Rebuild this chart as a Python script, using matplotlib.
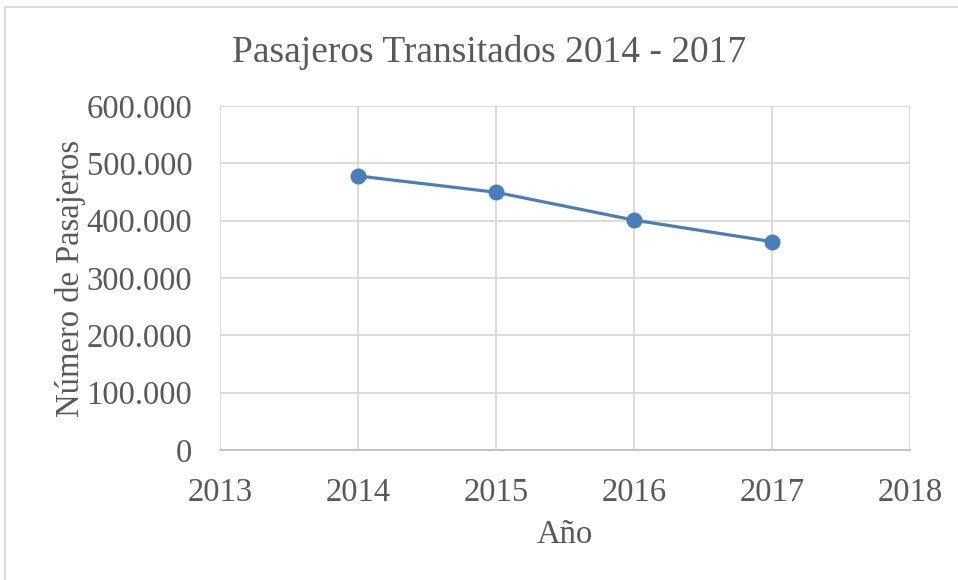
import matplotlib
matplotlib.use('Agg')
import matplotlib.pyplot as plt
import matplotlib.ticker as ticker
from matplotlib.patches import Rectangle

years = [2014, 2015, 2016, 2017]
pasajeros = [478000, 449500, 401000, 363500]

plt.rcParams['font.family'] = ['Liberation Serif', 'DejaVu Serif']
textColor = '#595959'

fig = plt.figure(figsize=(9.58, 5.8), dpi=100)
ax = fig.add_axes([220/958, 1 - 450/580, 690/958, 344/580])

ax.plot(years, pasajeros, color='#4a7ebb', linewidth=2.3, marker='o', markersize=10.5)

ax.set_xlim(2013, 2018)
ax.set_ylim(0, 600000)
ax.xaxis.set_major_locator(ticker.MultipleLocator(1))
ax.yaxis.set_major_locator(ticker.MultipleLocator(100000))
ax.yaxis.set_major_formatter(ticker.FuncFormatter(lambda v, p: f'{int(v):,}'.replace(',', '.')))

ax.grid(True, color='#d9d9d9', linewidth=1.3)
ax.set_axisbelow(True)
for side in ['top', 'right', 'left']:
    ax.spines[side].set_visible(False)
ax.spines['bottom'].set_color('#bfbfbf')
ax.spines['bottom'].set_linewidth(1.3)
ax.tick_params(length=0, labelsize=23.5, labelcolor=textColor)
ax.tick_params(axis='x', pad=20)
ax.tick_params(axis='y', pad=20)

# title centred on the whole chart area, like the Excel original
fig.text(489/958, 1 - 52/580, 'Pasajeros Transitados 2014 - 2017', fontsize=27,
         color=textColor, ha='center', va='center')
ax.set_xlabel('Año', fontsize=23.5, color=textColor, labelpad=8)
ax.set_ylabel('Número de Pasajeros', fontsize=23.5, color=textColor, labelpad=0)

fig.patches.append(Rectangle((5/958, -0.1), 1, 1.1 - 7/580, transform=fig.transFigure,
                             fill=False, edgecolor='#d9d9d9', linewidth=1.3))

fig.savefig('out.png', dpi=100)
